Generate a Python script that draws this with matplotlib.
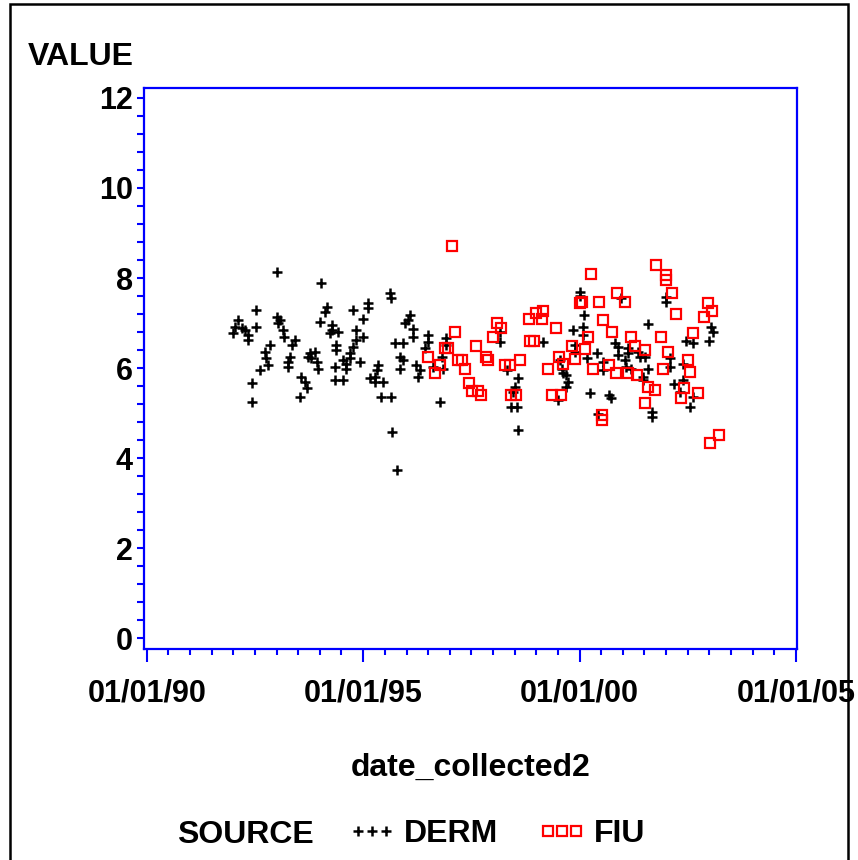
import numpy as np
import pandas as pd
import matplotlib
matplotlib.use("Agg")
import matplotlib.pyplot as plt
import matplotlib.dates as mdates
from matplotlib import font_manager
from matplotlib.patches import Rectangle

# DERM samples: decimal year of collection, value
derm_year = [1991.99, 1992.03, 1992.11, 1992.19, 1992.26, 1992.34, 1992.34, 1992.42, 1992.42, 1992.53,
             1992.53, 1992.61, 1992.73, 1992.76, 1992.80, 1992.84, 1993.00, 1993.01, 1993.07, 1993.03,
             1993.15, 1993.16, 1993.26, 1993.26, 1993.30, 1993.34, 1993.42, 1993.53, 1993.57, 1993.65,
             1993.70, 1993.73, 1993.76, 1993.80, 1993.88, 1993.92, 1993.96, 1994.00, 1994.02, 1994.11,
             1994.15, 1994.23, 1994.27, 1994.27, 1994.34, 1994.34, 1994.38, 1994.38, 1994.42, 1994.53,
             1994.53, 1994.61, 1994.61, 1994.69, 1994.69, 1994.76, 1994.76, 1994.84, 1994.84, 1994.92,
             1995.00, 1995.00, 1995.11, 1995.11, 1995.15, 1995.27, 1995.27, 1995.31, 1995.34, 1995.46,
             1995.42, 1995.61, 1995.65, 1995.64, 1995.67, 1995.73, 1995.77, 1995.84, 1995.92, 1995.84,
             1995.92, 1995.96, 1996.04, 1996.07, 1996.15, 1996.15, 1996.23, 1996.31, 1996.27, 1996.42,
             1996.50, 1996.50, 1996.61, 1996.78, 1996.81, 1996.84, 1996.92, 1996.92, 1998.15, 1998.15,
             1998.33, 1998.50, 1998.46, 1998.41, 1998.55, 1998.58, 1998.58, 1999.15, 1999.50, 1999.54,
             1999.59, 1999.61, 1999.69, 1999.73, 1999.69, 1999.85, 1999.89, 1999.89, 2000.00, 2000.00,
             2000.08, 2000.08, 2000.09, 2000.16, 2000.23, 2000.40, 2000.42, 2000.54, 2000.54, 2000.69,
             2000.73, 2000.81, 2000.89, 2000.89, 2000.96, 2001.04, 2001.08, 2001.19, 2001.12, 2001.12,
             2001.35, 2001.39, 2001.46, 2001.46, 2001.58, 2001.58, 2001.66, 2001.66, 2001.99, 2001.99,
             2002.08, 2002.08, 2002.19, 2002.31, 2002.39, 2002.39, 2002.46, 2002.62, 2002.56, 2002.62,
             2003.00, 2003.04, 2003.08, 2001.50]
derm_value = [6.77, 6.92, 7.07, 6.88, 6.84, 6.73, 6.62, 5.67, 5.25, 7.29,
              6.92, 5.96, 6.36, 6.22, 6.07, 6.51, 7.14, 8.14, 7.07, 6.99,
              6.84, 6.70, 6.14, 6.03, 6.25, 6.51, 6.62, 5.36, 5.81, 5.70,
              5.55, 6.25, 6.33, 6.22, 6.36, 6.14, 5.99, 7.03, 7.88, 7.25,
              7.36, 6.77, 6.96, 6.84, 6.03, 5.73, 6.51, 6.40, 6.81, 6.18,
              5.73, 6.10, 5.99, 6.33, 6.22, 7.30, 6.47, 6.84, 6.62, 6.14,
              7.08, 6.70, 7.44, 7.33, 5.77, 5.81, 5.70, 5.96, 6.07, 5.70,
              5.36, 7.66, 7.55, 5.36, 4.58, 6.55, 3.73, 6.24, 6.55, 5.99,
              6.18, 7.01, 7.07, 7.18, 6.86, 6.70, 6.07, 5.96, 5.81, 6.44,
              6.73, 6.58, 6.03, 5.25, 6.25, 5.99, 6.66, 6.51, 6.81, 6.58,
              5.96, 5.58, 5.47, 5.14, 5.14, 5.77, 4.62, 6.58, 5.30, 6.18,
              5.99, 5.88, 5.84, 5.70, 5.58, 6.84, 6.51, 6.36, 7.70, 7.60,
              6.92, 6.73, 7.18, 6.22, 5.45, 6.33, 4.99, 6.14, 5.96, 5.40,
              5.33, 6.55, 6.47, 6.29, 7.55, 6.18, 6.03, 5.99, 6.44, 6.33,
              6.36, 6.25, 5.81, 5.73, 6.97, 5.99, 5.03, 4.92, 7.58, 7.47,
              6.22, 6.03, 5.64, 5.47, 5.73, 6.08, 6.60, 6.55, 5.14, 5.36,
              6.60, 6.92, 6.81, 6.25]

# FIU samples
fiu_year = [1996.50, 1996.65, 1996.77, 1996.88, 1996.96, 1997.06, 1997.11, 1997.19, 1997.27, 1997.34,
            1997.44, 1997.50, 1997.65, 1997.73, 1997.60, 1997.83, 1997.88, 1998.00, 1998.10, 1998.18,
            1998.28, 1998.38, 1998.41, 1998.52, 1998.61, 1998.82, 1998.85, 1998.95, 1999.00, 1999.14,
            1999.15, 1999.28, 1999.35, 1999.46, 1999.52, 1999.56, 1999.61, 1999.83, 1999.89, 2000.00,
            2000.06, 2000.12, 2000.19, 2000.27, 2000.31, 2000.44, 2000.52, 2000.52, 2000.55, 2000.68,
            2000.76, 2000.85, 2000.87, 2001.04, 2001.12, 2001.18, 2001.27, 2001.32, 2001.50, 2001.50,
            2001.58, 2001.73, 2001.77, 2001.87, 2001.92, 2001.99, 2001.99, 2002.04, 2002.14, 2002.22,
            2002.35, 2002.40, 2002.50, 2002.54, 2002.62, 2002.73, 2002.87, 2002.96, 2003.07, 2003.02,
            2003.21]
fiu_value = [6.25, 5.88, 6.07, 6.44, 6.44, 8.70, 6.81, 6.18, 6.18, 5.99,
             5.67, 5.49, 5.49, 5.40, 6.49, 6.25, 6.18, 6.70, 7.01, 6.90,
             6.07, 6.07, 5.40, 5.40, 6.18, 7.08, 6.61, 6.61, 7.22, 7.08,
             7.27, 5.98, 5.40, 6.90, 6.25, 5.40, 6.09, 6.50, 6.19, 7.44,
             7.47, 6.42, 6.70, 8.09, 5.99, 7.47, 4.96, 4.84, 7.07, 6.07,
             6.81, 5.88, 7.67, 7.47, 5.88, 6.70, 6.49, 5.84, 6.40, 5.22,
             5.58, 5.51, 8.29, 6.70, 5.99, 8.07, 7.96, 6.36, 7.67, 7.20,
             5.33, 5.56, 6.18, 5.92, 6.77, 5.44, 7.13, 7.44, 7.27, 4.34,
             4.51]

y_ticks = [0, 2, 4, 6, 8, 10, 12]


def to_dates(years):
    out = []
    for y in years:
        yr = int(y)
        out.append(pd.Timestamp(yr, 1, 1) + pd.Timedelta(days=(y - yr) * 365.25))
    return pd.to_datetime(out).values


names = {f.name for f in font_manager.fontManager.ttflist}
if "Liberation Sans Narrow" in names:
    label_font, label_size = "Liberation Sans Narrow", 28
else:
    label_font, label_size = "Liberation Sans", 23
tick_font = "Liberation Sans"

blue = "#0000FF"
W, H = 858, 860
fig = plt.figure(figsize=(W / 100, H / 100), dpi=100)
ax = fig.add_axes([144 / W, 1 - 649 / H, (797 - 144) / W, (649 - 88) / H])

derm_line, = ax.plot(to_dates(derm_year), derm_value, linestyle="none", marker="+",
                     color="black", markersize=7, markeredgewidth=1.8)
fiu_line, = ax.plot(to_dates(fiu_year), fiu_value, linestyle="none", marker="s",
                    markerfacecolor="none", markeredgecolor="red", markersize=6.5,
                    markeredgewidth=1.6)

ax.set_ylim(-0.24, 12.22)
ax.set_xlim(np.datetime64("1989-12-07"), np.datetime64("2005-01-09"))
ax.set_yticks(y_ticks)
ax.set_yticks(np.arange(0, 12.01, 0.4), minor=True)
ax.set_yticklabels([str(t) for t in y_ticks])
ax.xaxis.set_major_locator(mdates.YearLocator(5))
ax.xaxis.set_minor_locator(mdates.MonthLocator(bymonth=[1, 7]))
ax.xaxis.set_major_formatter(mdates.DateFormatter("%m/%d/%y"))

for s in ax.spines.values():
    s.set_color(blue)
    s.set_linewidth(1.6)
ax.tick_params(axis="y", which="both", direction="out", length=5, width=1.5, color=blue,
               pad=3, labelsize=22)
ax.tick_params(axis="x", which="major", direction="out", length=9, width=1.5, color=blue,
               pad=12, labelsize=22)
ax.tick_params(axis="x", which="minor", direction="out", length=4.5, width=1.5, color=blue)
for lab in ax.get_xticklabels() + ax.get_yticklabels():
    lab.set_fontfamily(tick_font)
    lab.set_fontweight("bold")

fig.text(28 / W, 1 - 65 / H, "VALUE", fontsize=label_size, family=label_font,
         weight="bold", va="baseline")
fig.text(470.5 / W, 1 - 776 / H, "date_collected2", fontsize=label_size, family=label_font,
         weight="bold", va="baseline", ha="center")
fig.text(177 / W, 1 - 843 / H, "SOURCE", fontsize=label_size, family=label_font,
         weight="bold", va="baseline")

fig.legend([derm_line, fiu_line], ["DERM", "FIU"], ncol=2, numpoints=3, frameon=False,
           loc="center left", bbox_to_anchor=(348 / W, 1 - 834 / H),
           prop={"family": label_font, "size": label_size, "weight": "bold"},
           handlelength=1.5, handletextpad=0.25, columnspacing=1.25, borderpad=0,
           borderaxespad=0)

# outer black frame
fig.patches.append(Rectangle((10 / W, -0.01), (848 - 10) / W, 1.01 - 4 / H, transform=fig.transFigure,
                             fill=False, edgecolor="black", linewidth=1.8))

fig.savefig("out.png", dpi=100)
